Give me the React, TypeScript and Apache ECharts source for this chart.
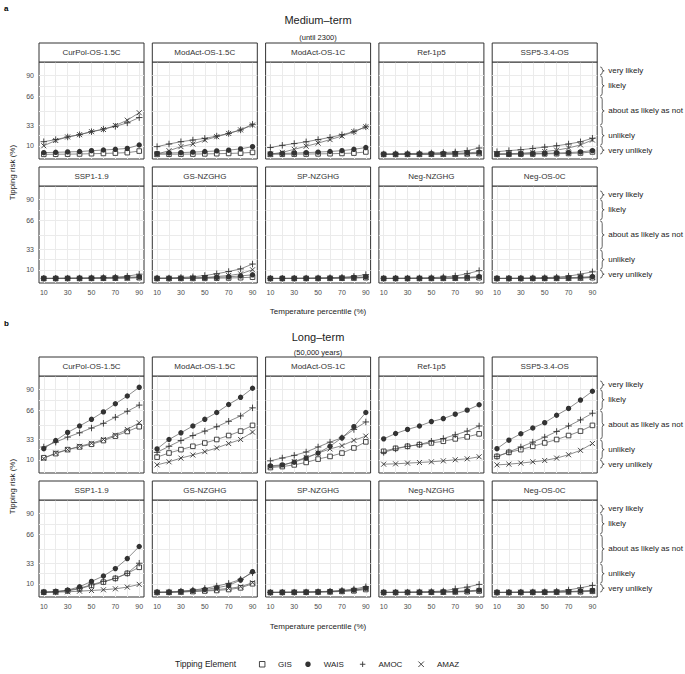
import React, { useEffect, useRef } from "react";
import * as echarts from "echarts";

// ---------- data ----------
const PERCENTILES = [10, 20, 30, 40, 50, 60, 70, 80, 90];
const SCENARIOS = [
  "CurPol-OS-1.5C", "ModAct-OS-1.5C", "ModAct-OS-1C", "Ref-1p5", "SSP5-3.4-OS",
  "SSP1-1.9", "GS-NZGHG", "SP-NZGHG", "Neg-NZGHG", "Neg-OS-0C",
];
const ELEMENTS = ["GIS", "WAIS", "AMOC", "AMAZ"];
const X_LABELS = [10, 30, 50, 70, 90];
const X_GRID = [10, 20, 30, 40, 50, 60, 70, 80, 90];
const Y_LABELS = [10, 33, 66, 90];
const Y_GRID = [10, 21.5, 33, 49.5, 66, 78, 90];
const LIKELIHOOD = [
  { label: "very likely", lo: 90, hi: 100 },
  { label: "likely", lo: 66, hi: 90 },
  { label: "about as likely as not", lo: 33, hi: 66 },
  { label: "unlikely", lo: 10, hi: 33 },
  { label: "very unlikely", lo: 0, hi: 10 },
];

// Medium-term (until 2300) — rows follow SCENARIOS
const MEDIUM_GIS = [
  [0.3, 0.4, 0.5, 0.7, 1, 1.3, 1.7, 2.2, 4],
  [0.3, 0.4, 0.5, 0.6, 0.8, 1, 1.3, 1.7, 2.5],
  [0.3, 0.4, 0.5, 0.6, 0.8, 1, 1.3, 1.7, 3],
  [0.2, 0.2, 0.3, 0.3, 0.4, 0.5, 0.6, 0.8, 1.2],
  [0.3, 0.4, 0.5, 0.6, 0.8, 1, 1.3, 1.8, 3],
  [0.1, 0.1, 0.2, 0.2, 0.3, 0.4, 0.5, 0.7, 1],
  [0.1, 0.1, 0.2, 0.2, 0.3, 0.5, 0.7, 1, 1.6],
  [0.1, 0.1, 0.1, 0.2, 0.2, 0.3, 0.4, 0.6, 1],
  [0.1, 0.1, 0.1, 0.2, 0.2, 0.3, 0.4, 0.6, 1],
  [0.1, 0.1, 0.1, 0.2, 0.2, 0.3, 0.4, 0.6, 1],
];
const MEDIUM_WAIS = [
  [2.2, 2.6, 3, 3.4, 4.4, 5.2, 6, 7, 10.9],
  [1.4, 1.8, 2.2, 2.8, 3.4, 4.2, 5, 6.5, 9],
  [1, 1.3, 1.7, 2.2, 2.8, 3.5, 4.5, 6, 8],
  [0.5, 0.6, 0.7, 0.8, 1, 1.2, 1.5, 2, 2.8],
  [0.5, 0.7, 0.9, 1.1, 1.4, 1.8, 2.3, 3, 4.5],
  [0.3, 0.3, 0.4, 0.5, 0.6, 0.8, 1, 1.4, 2],
  [0.3, 0.4, 0.5, 0.7, 1, 1.4, 2, 3, 4.3],
  [0.2, 0.3, 0.3, 0.4, 0.5, 0.7, 0.9, 1.3, 2],
  [0.2, 0.3, 0.3, 0.4, 0.5, 0.7, 1, 1.5, 2.4],
  [0.2, 0.3, 0.3, 0.4, 0.5, 0.7, 1, 1.5, 2.4],
];
const MEDIUM_AMOC = [
  [14.6, 17, 20, 22.6, 26, 29, 32, 36, 42],
  [9, 12, 14.6, 16.5, 18.4, 21, 24, 28, 34.3],
  [8, 10.5, 12.5, 14.5, 17, 19.5, 22.5, 26, 31.5],
  [0.7, 0.9, 1.1, 1.4, 1.8, 2.3, 3, 4.5, 7.5],
  [3.3, 4.5, 5.5, 7, 8.5, 10, 12, 14.5, 18.5],
  [0.3, 0.4, 0.5, 0.6, 0.8, 1.1, 1.6, 2.7, 5],
  [0.5, 0.6, 1.3, 2, 3.5, 5.5, 8, 11, 16.5],
  [0.3, 0.3, 0.4, 0.5, 0.7, 1, 1.5, 2.5, 4.5],
  [0.3, 0.4, 0.5, 0.7, 1, 1.8, 3, 5.5, 9],
  [0.3, 0.4, 0.5, 0.7, 1, 1.6, 2.8, 5, 7.7],
];
const MEDIUM_AMAZ = [
  [10, 16, 20, 22.6, 26, 28.5, 33, 39, 47.5],
  [0.7, 4.4, 9, 12, 16.5, 20.3, 24, 28, 33.5],
  [0.5, 2.5, 6, 9.5, 13, 17, 21, 26, 31.5],
  [0.2, 0.2, 0.3, 0.3, 0.4, 0.5, 0.7, 1, 1.8],
  [0.7, 1, 1.5, 2.5, 3.5, 5, 7.5, 11, 16.5],
  [0.1, 0.1, 0.2, 0.2, 0.3, 0.4, 0.5, 0.7, 1.2],
  [0.2, 0.3, 0.5, 0.8, 1.2, 2.4, 3.5, 5.4, 10],
  [0.1, 0.1, 0.2, 0.2, 0.3, 0.4, 0.6, 0.9, 1.5],
  [0.1, 0.1, 0.2, 0.2, 0.3, 0.4, 0.6, 0.9, 1.5],
  [0.1, 0.1, 0.2, 0.2, 0.3, 0.4, 0.6, 0.9, 1.5],
];

// Long-term (50,000 years)
const LONG_GIS = [
  [12.3, 17, 21.5, 24.6, 27.6, 31.8, 36.8, 42.1, 47.5],
  [13, 17.7, 21.5, 25.3, 29, 33, 37.5, 42.5, 49],
  [1.2, 2.3, 4.2, 7, 10.8, 13.8, 17.6, 23.4, 30.3],
  [19.6, 23, 25.3, 27.2, 29.1, 31, 33.7, 36, 39.4],
  [13.8, 18.4, 21.5, 25.3, 29.1, 33, 37.5, 42.5, 49],
  [0.5, 0.8, 2, 4.3, 8.1, 11.9, 16.1, 21.8, 28.7],
  [0.2, 0.3, 0.6, 1.2, 1.8, 2.4, 3.5, 5.4, 10],
  [0.1, 0.2, 0.3, 0.4, 0.6, 0.8, 1.3, 2, 3.5],
  [0.1, 0.1, 0.2, 0.3, 0.4, 0.5, 0.7, 1, 1.8],
  [0.1, 0.1, 0.2, 0.3, 0.4, 0.5, 0.7, 0.9, 1.5],
];
const LONG_WAIS = [
  [22.6, 31.8, 41, 48.3, 55.9, 64.3, 73.5, 82.3, 92.2],
  [22.3, 33, 40.6, 48.3, 55.9, 63.6, 72.7, 80.8, 91.1],
  [3.1, 4.2, 7.3, 11.9, 17.6, 25.3, 34.9, 47.5, 63.6],
  [33.7, 39.8, 44.4, 48.3, 53.3, 56.7, 61.7, 66.3, 72.4],
  [22.6, 32.2, 39.5, 46, 52.1, 60.5, 68.2, 77.7, 87.7],
  [0.5, 1.3, 2.8, 6.6, 12.7, 18.8, 27.2, 38.6, 52.3],
  [0.4, 0.5, 1.3, 2.4, 3.5, 5.4, 8.1, 14.2, 23.7],
  [0.2, 0.3, 0.4, 0.6, 0.9, 1.3, 2, 3, 5],
  [0.2, 0.3, 0.4, 0.5, 0.7, 0.9, 1.3, 2, 2.8],
  [0.2, 0.3, 0.4, 0.5, 0.6, 0.8, 1.2, 1.8, 2.5],
];
const LONG_AMOC = [
  [24.5, 30, 35.7, 40.6, 46, 51.3, 58.2, 65, 72],
  [18.4, 25.3, 31.8, 37.5, 42.5, 47.5, 53.6, 59.7, 68.9],
  [8.8, 12, 15, 18.8, 24.5, 30, 34.9, 44.4, 52.9],
  [18.4, 22.3, 25.3, 27.2, 31, 34.1, 38.3, 42.5, 48.3],
  [13.8, 18.8, 24.5, 30, 35.7, 42.1, 48.3, 55.2, 62.8],
  [0.5, 0.9, 2.4, 5, 8.9, 12.7, 16.1, 21.8, 33.3],
  [0.4, 0.6, 1.6, 2.8, 4.7, 7.4, 10.4, 15, 22.6],
  [0.3, 0.4, 0.5, 0.7, 1, 1.5, 2.5, 4, 6.6],
  [0.3, 0.4, 0.5, 0.7, 1.1, 1.8, 4.3, 6.2, 9.3],
  [0.3, 0.4, 0.5, 0.7, 1, 1.6, 3, 5.4, 8.1],
];
const LONG_AMAZ = [
  [11.5, 17.7, 21.5, 25.3, 28.7, 33, 38, 44.4, 52],
  [4.2, 7.7, 11.9, 15.4, 19.2, 23.4, 28.4, 33, 41.4],
  [2.3, 3.5, 8, 12.7, 17.6, 22.3, 26, 32, 36.8],
  [5, 5.4, 6.2, 6.9, 7.7, 8.8, 10, 11.1, 13.4],
  [4.2, 5, 6.2, 7.7, 9.2, 11.9, 15.7, 20.7, 28.4],
  [0.1, 0.5, 0.9, 1.6, 2.4, 3.2, 4.3, 6.2, 9.3],
  [0.2, 0.4, 0.8, 1.5, 2.4, 3.5, 4.7, 6.6, 11.2],
  [0.2, 0.3, 0.4, 0.5, 0.7, 1, 1.6, 2.6, 4.5],
  [0.1, 0.2, 0.3, 0.4, 0.5, 0.7, 1, 1.5, 2.5],
  [0.1, 0.2, 0.3, 0.4, 0.5, 0.7, 1, 1.4, 2.2],
];

const SECTIONS = [
  { tag: "a", title: "Medium\u2013term", subtitle: "(until 2300)", data: [MEDIUM_GIS, MEDIUM_WAIS, MEDIUM_AMOC, MEDIUM_AMAZ] },
  { tag: "b", title: "Long\u2013term", subtitle: "(50,000 years)", data: [LONG_GIS, LONG_WAIS, LONG_AMOC, LONG_AMAZ] },
];

// ---------- layout / style ----------
const FONT = "'Liberation Sans', Arial, Helvetica, sans-serif";
const COL_X = [39, 152.3, 265.6, 378.9, 492.2];
const PANEL_W = 105;
const ROW_TOP = [62, 186, 376, 500];
const PANEL_H = 97;
const STRIP_H = 19;
const SECTION_TITLE_Y = [20, 337];
const SECTION_SUB_Y = [37, 352];
const SECTION_TAG_Y = [8, 323];
const XTITLE_Y = [311, 626];
const DARK = "#333333";
const LINE = "#5a5a5a";
const TEXT = "#222222";

const PLUS = "path://M5,0L5,10M0,5L10,5";
const CROSS = "path://M0,0L10,10M0,10L10,0";

const ELEMENT_STYLE = [
  { symbol: "rect", symbolSize: 4.6, itemStyle: { color: "#ffffff", borderColor: DARK, borderWidth: 0.9 } },
  { symbol: "circle", symbolSize: 5.4, itemStyle: { color: DARK, borderWidth: 0 } },
  { symbol: PLUS, symbolSize: 6.5, itemStyle: { color: "none", borderColor: DARK, borderWidth: 0.9 } },
  { symbol: CROSS, symbolSize: 5, itemStyle: { color: "none", borderColor: DARK, borderWidth: 0.9 } },
];

function buildOption() {
  const grid: any[] = [];
  const xAxis: any[] = [];
  const yAxis: any[] = [];
  const series: any[] = [];
  const graphic: any[] = [];
  const braceGrids: number[] = [];

  SECTIONS.forEach((sec, s) => {
    SCENARIOS.forEach((name, k) => {
      const r = Math.floor(k / 5);
      const c = k % 5;
      const gi = grid.length;
      const top = ROW_TOP[s * 2 + r];
      const left = COL_X[c];
      grid.push({ left, top, width: PANEL_W, height: PANEL_H, show: true, borderColor: DARK, borderWidth: 1, backgroundColor: "transparent", containLabel: false });
      xAxis.push({
        gridIndex: gi, type: "value", min: 6, max: 94,
        axisLine: { show: false },
        axisTick: { show: false, customValues: X_GRID },
        axisLabel: { show: r === 1, customValues: X_LABELS, fontSize: 7, color: "#4d4d4d", margin: 6, fontFamily: FONT },
        splitLine: { show: true, lineStyle: { color: "#ebebeb", width: 1 } },
      });
      yAxis.push({
        gridIndex: gi, type: "value", min: -5, max: 105,
        axisLine: { show: false },
        axisTick: { show: false, customValues: Y_GRID },
        axisLabel: { show: c === 0, customValues: Y_LABELS, fontSize: 7, color: "#4d4d4d", margin: 5, fontFamily: FONT },
        splitLine: { show: true, lineStyle: { color: "#ebebeb", width: 1 } },
      });
      ELEMENTS.forEach((el, e) => {
        series.push({
          type: "line", name: el, xAxisIndex: gi, yAxisIndex: gi,
          data: PERCENTILES.map((p, i) => [p, sec.data[e][k][i]]),
          lineStyle: { color: LINE, width: 0.7 },
          ...ELEMENT_STYLE[e],
          showSymbol: true, silent: true, z: 3,
        });
      });
      if (c === 4) {
        braceGrids.push(gi);
        series.push({
          type: "custom", xAxisIndex: gi, yAxisIndex: gi, clip: false, silent: true,
          itemStyle: { color: TEXT },
          data: LIKELIHOOD.map((l) => [l.lo, l.hi]),
          renderItem: (params: any, api: any) => {
            const lo = api.value(0);
            const hi = api.value(1);
            const cs = params.coordSys;
            const yT = api.coord([50, hi])[1] + 0.6;
            const yB = api.coord([50, lo])[1] - 0.6;
            const x0 = cs.x + cs.width + 3;
            const w = 4;
            const h = w / 2;
            const ym = (yT + yB) / 2;
            const rr = Math.min(2.5, (yB - yT) / 4);
            const d = `M${x0},${yT} Q${x0 + h},${yT} ${x0 + h},${yT + rr} L${x0 + h},${ym - rr} Q${x0 + h},${ym} ${x0 + w},${ym} Q${x0 + h},${ym} ${x0 + h},${ym + rr} L${x0 + h},${yB - rr} Q${x0 + h},${yB} ${x0},${yB}`;
            return { type: "path", shape: { pathData: d }, style: { fill: "none", stroke: TEXT, lineWidth: 0.7 } };
          },
        });
      }
      graphic.push({
        type: "rect", silent: true, z: 10,
        shape: { x: left, y: top - STRIP_H, width: PANEL_W, height: STRIP_H },
        style: { fill: "#ffffff", stroke: DARK, lineWidth: 1 },
      });
      graphic.push({
        type: "text", silent: true, z: 11, x: left + PANEL_W / 2, y: top - STRIP_H / 2,
        style: { text: name, fontSize: 8, fill: "#333333", align: "center", verticalAlign: "middle", fontFamily: FONT },
      });
    });

    graphic.push({ type: "text", x: 4, y: SECTION_TAG_Y[s], style: { text: sec.tag, fontSize: 8, fontWeight: "bold", fill: "#000", verticalAlign: "middle", fontFamily: FONT } });
    graphic.push({ type: "text", x: 318, y: SECTION_TITLE_Y[s], style: { text: sec.title, fontSize: 11, fill: TEXT, align: "center", verticalAlign: "middle", fontFamily: FONT } });
    graphic.push({ type: "text", x: 318, y: SECTION_SUB_Y[s], style: { text: sec.subtitle, fontSize: 7.5, fill: TEXT, align: "center", verticalAlign: "middle", fontFamily: FONT } });
    graphic.push({ type: "text", x: 318, y: XTITLE_Y[s], style: { text: "Temperature percentile (%)", fontSize: 8, fill: TEXT, align: "center", verticalAlign: "middle", fontFamily: FONT } });
    const yMid = (ROW_TOP[s * 2] + ROW_TOP[s * 2 + 1] + PANEL_H) / 2;
    graphic.push({ type: "text", x: 12, y: yMid, rotation: Math.PI / 2, style: { text: "Tipping risk (%)", fontSize: 8, fill: TEXT, align: "center", verticalAlign: "middle", fontFamily: FONT } });
  });

  graphic.push({ type: "text", x: 175, y: 664, style: { text: "Tipping Element", fontSize: 8.5, fill: TEXT, verticalAlign: "middle", fontFamily: FONT } });

  return {
    braceGrids,
    option: {
      animation: false,
      backgroundColor: "#ffffff",
      grid, xAxis, yAxis, series, graphic,
      legend: {
        data: ELEMENTS.map((n, e) => ({
          name: n,
          icon: ELEMENT_STYLE[e].symbol,
          itemStyle: { ...ELEMENT_STYLE[e].itemStyle },
        })),
        left: 259, top: 659, padding: 0, itemWidth: 5.5, itemHeight: 5.5, itemGap: 13.5,
        selectedMode: false,
        textStyle: { fontSize: 8, color: TEXT, fontFamily: FONT, padding: [0, 0, 0, 8] },
      },
    },
  };
}

export default function App() {
  const ref = useRef<HTMLDivElement>(null);
  useEffect(() => {
    if (!ref.current) return;
    const chart = echarts.init(ref.current, undefined, { renderer: "svg" });
    const { option, braceGrids } = buildOption();
    chart.setOption(option as any);
    // likelihood labels placed through the panels' own y scale
    const labels: any[] = [];
    braceGrids.forEach((gi) => {
      LIKELIHOOD.forEach((l) => {
        const pTop = chart.convertToPixel({ gridIndex: gi } as any, [94, l.hi]) as number[];
        const pBot = chart.convertToPixel({ gridIndex: gi } as any, [94, l.lo]) as number[];
        labels.push({
          type: "text", silent: true,
          x: pTop[0] + 11, y: (pTop[1] + pBot[1]) / 2,
          style: { text: l.label, fontSize: 8, fill: TEXT, verticalAlign: "middle", align: "left", fontFamily: FONT },
        });
      });
    });
    const base = (option as any).graphic as any[];
    chart.setOption({ graphic: [...base, ...labels] } as any);
    return () => chart.dispose();
  }, []);
  return <div ref={ref} style={{ position: "absolute", left: 0, top: 0, width: 685, height: 674 }} />;
}
